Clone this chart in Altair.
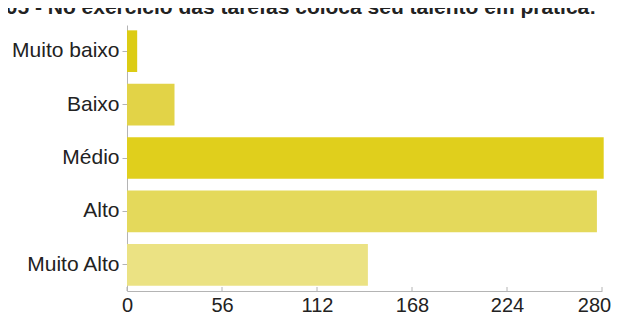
import altair as alt
import pandas as pd

title_text = "05 - No exercício das tarefas coloca seu talento em prática:"
categories = ["Muito baixo", "Baixo", "Médio", "Alto", "Muito Alto"]
counts = [6, 28, 281, 277, 142]
bar_colors = ["#dccc14", "#e2d347", "#e0cf1c", "#e4d95b", "#ebe283"]
tick_values = [0, 56, 112, 168, 224, 280]

FONT = "Liberation Sans"
W, H = 475, 266

df = pd.DataFrame({"cat": categories, "n": counts, "col": bar_colors})
ticks_df = pd.DataFrame({"v": tick_values})
title_df = pd.DataFrame({"t": [title_text]})

xscale = alt.Scale(domain=[0, 280], nice=False, zero=True)

bars = alt.Chart(df).mark_bar(clip=False).encode(
    y=alt.Y("cat:N", sort=categories, title=None,
            scale=alt.Scale(paddingInner=0.22, paddingOuter=0.1),
            axis=alt.Axis(labelFont=FONT, labelFontSize=21, labelColor="#222222",
                          domainColor="#b4b4b4", tickColor="#b4b4b4",
                          tickSize=5, labelPadding=3, grid=False)),
    x=alt.X("n:Q", scale=xscale, title=None,
            axis=alt.Axis(values=tick_values, labelFont=FONT, labelFontSize=20,
                          labelColor="#222222", domainColor="#b4b4b4",
                          ticks=False, labelPadding=4, grid=False,
                          labelFlush=False,
                          labelOffset={"expr": "datum.value == 280 ? -8 : 0"})),
    color=alt.Color("col:N", scale=None),
)

tick_marks = alt.Chart(ticks_df).mark_rule(color="#b4b4b4").encode(
    x=alt.X("v:Q", scale=xscale),
    y=alt.value(H - 4),
    y2=alt.value(H),
)

title = alt.Chart(title_df).mark_text(
    font=FONT, fontSize=21, fontWeight="bold", color="#222222",
    align="center", baseline="alphabetic"
).encode(
    text="t:N",
    x=alt.value(174),
    y=alt.value(-11),
)

chart = alt.layer(bars, tick_marks, title).properties(
    width=W, height=H,
    padding={"left": 119, "top": 17, "right": 11, "bottom": 23},
    autosize=alt.AutoSizeParams(type="none"),
).configure_view(strokeWidth=0)

chart.save("out.html", embed_options={"renderer": "svg", "actions": False})
